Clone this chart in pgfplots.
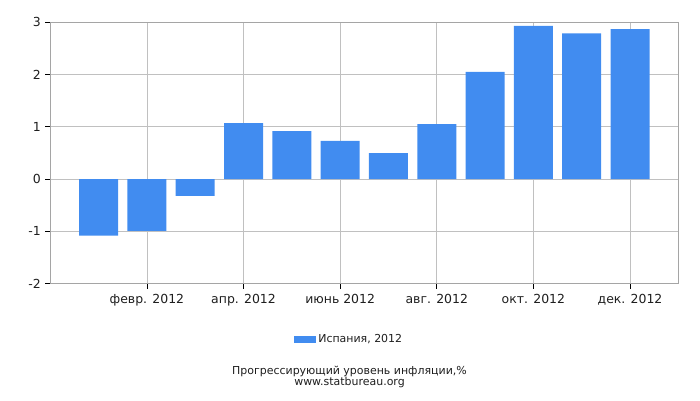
\documentclass[border=0pt]{standalone}
\usepackage{pgfplots}
\pgfplotsset{compat=1.18}
\usepackage{fontspec}
\setmainfont{DejaVu Sans}
\definecolor{barblue}{RGB}{65,140,240}
\definecolor{gridgray}{RGB}{192,192,192}
\definecolor{axisgray}{RGB}{165,165,165}
\definecolor{txt}{RGB}{30,30,30}
\begin{document}
\begin{tikzpicture}[x=1bp,y=1bp]
\path[use as bounding box] (0,0) rectangle (700,400);
\begin{axis}[
    at={(50.3bp,116.3bp)}, anchor=south west,
    scale only axis,
    width=628bp, height=261.4bp,
    xmin=-1, xmax=12,
    ymin=-2, ymax=3,
    xtick={1,3,5,7,9,11},
    xticklabels={февр. 2012, апр. 2012, июнь 2012, авг. 2012, окт. 2012, дек. 2012},
    ytick={-2,-1,0,1,2,3},
    yticklabels={-2,-1,0,1,2,3},
    xtick pos=bottom, ytick pos=left,
    tick align=outside,
    major tick length=5bp,
    tick style={black, line width=0.8bp},
    xmajorgrids=true, ymajorgrids=true,
    grid style={gridgray, line width=0.8bp},
    axis line style={axisgray, line width=0.8bp},
    ticklabel style={font=\fontsize{12.5}{14}\selectfont, text=txt},
    xticklabel style={yshift=-2bp},
    yticklabel style={xshift=-1bp},
    legend style={at={(0.476,-0.2116)}, anchor=center, draw=none,
        font=\fontsize{11}{13}\selectfont, text=txt, fill=none},
    legend image code/.code={\fill[#1] (0bp,-3.5bp) rectangle (22bp,3.5bp);},
]
\addplot[ybar, bar width=39bp, fill=barblue, draw=none]
    coordinates {
        (0,-1.08)
        (1,-0.99)
        (2,-0.32)
        (3,1.07)
        (4,0.92)
        (5,0.73)
        (6,0.50)
        (7,1.05)
        (8,2.05)
        (9,2.93)
        (10,2.79)
        (11,2.87)
    };
\addlegendentry{Испания, 2012}
\end{axis}
\node[font=\fontsize{11}{13}\selectfont, text=txt] at (349.5,29) {Прогрессирующий уровень инфляции,\%};
\node[font=\fontsize{11}{13}\selectfont, text=txt] at (349.5,18) {www.statbureau.org};
\end{tikzpicture}
\end{document}
